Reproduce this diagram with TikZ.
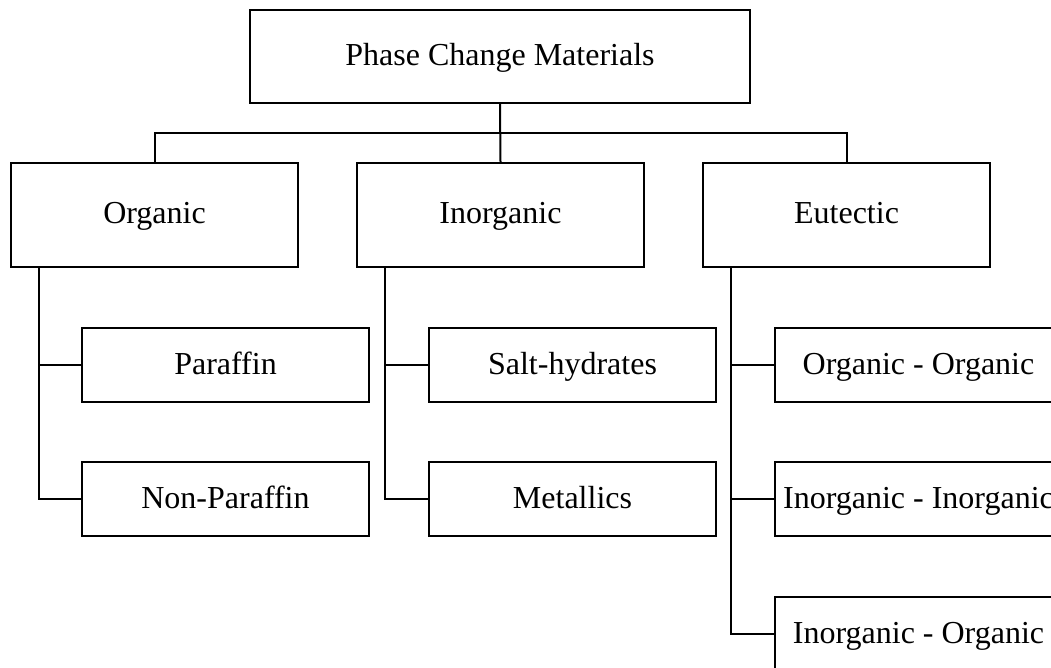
\documentclass[tikz,border=0pt]{standalone}
\usepackage{fontspec}
\setmainfont{Liberation Serif}
\begin{document}
\begin{tikzpicture}[x=1pt,y=-1pt, line width=2pt,
  box/.style={draw, rectangle, inner sep=0pt, font=\fontsize{32}{38}\selectfont, text height=21pt, text depth=3pt},
  topbox/.style={box, minimum width=500pt, minimum height=93pt},
  catbox/.style={box, minimum width=287pt, minimum height=104pt},
  leafbox/.style={box, minimum width=287pt, minimum height=74pt}]
\path[use as bounding box, clip] (0,0) rectangle (1051,668);
\node[topbox] (pcm) at (500,56.5) {Phase Change Materials};
\node[catbox] (org) at (154.5,215) {Organic};
\node[catbox] (inorg) at (500.5,215) {Inorganic};
\node[catbox] (eut) at (846.5,215) {Eutectic};
\node[leafbox] (par) at (225.5,365) {Paraffin};
\node[leafbox] (npar) at (225.5,499) {Non-Paraffin};
\node[leafbox] (salt) at (572.5,365) {Salt-hydrates};
\node[leafbox] (met) at (572.5,499) {Metallics};
\node[leafbox] (oo) at (918.5,365) {Organic - Organic};
\node[leafbox] (ii) at (918.5,499) {Inorganic - Inorganic};
\node[leafbox] (io) at (918.5,634) {Inorganic - Organic};
\coordinate (bus) at (0,133);
\draw (pcm.south) -- (inorg.north);
\draw (org.north) |- (pcm.south |- bus) -| (eut.north);
\draw ([xshift=29pt]org.south west) |- (par.west);
\draw ([xshift=29pt]org.south west) |- (npar.west);
\draw ([xshift=29pt]inorg.south west) |- (salt.west);
\draw ([xshift=29pt]inorg.south west) |- (met.west);
\draw ([xshift=29pt]eut.south west) |- (oo.west);
\draw ([xshift=29pt]eut.south west) |- (ii.west);
\draw ([xshift=29pt]eut.south west) |- (io.west);
\end{tikzpicture}
\end{document}
